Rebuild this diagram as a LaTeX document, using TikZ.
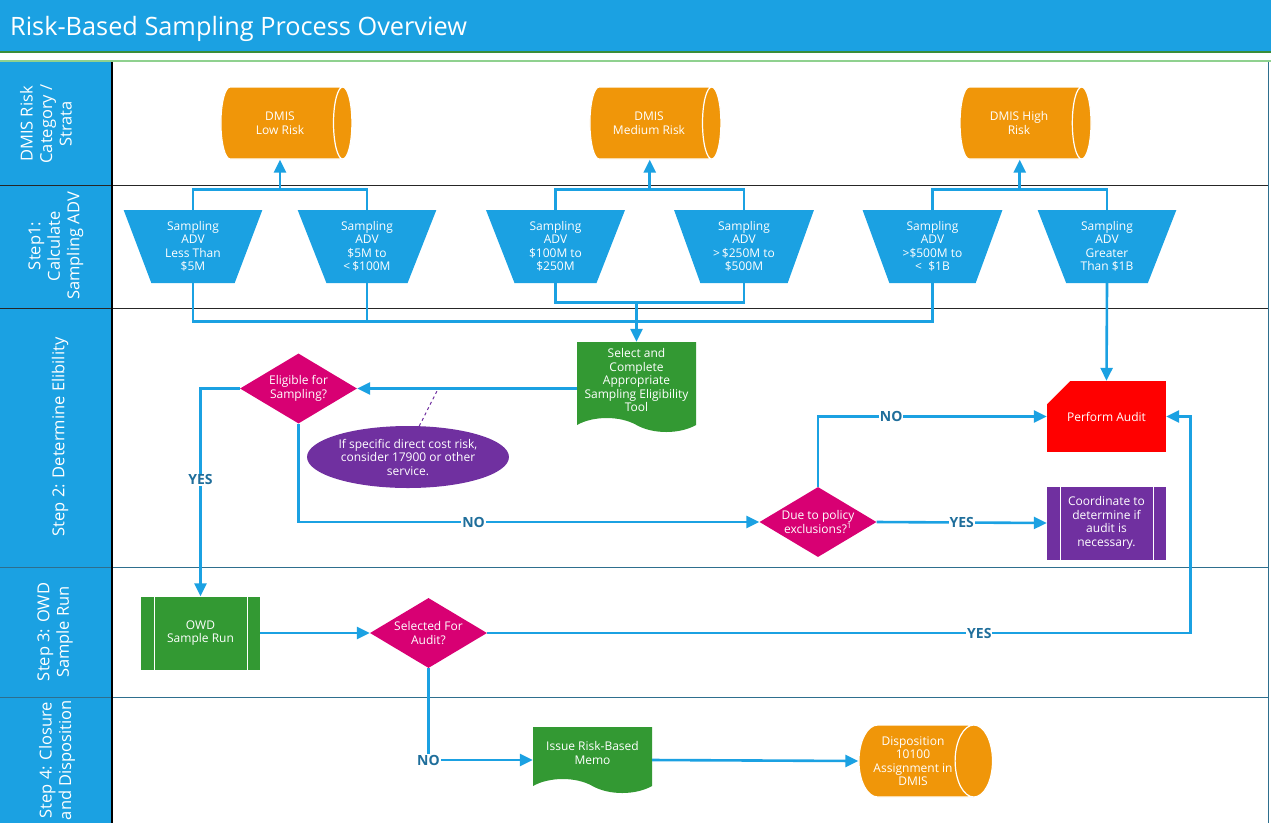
\documentclass[tikz,border=0pt]{standalone}
\usepackage{fontspec}
\setmainfont{Open Sans}
\usetikzlibrary{shapes.geometric,shapes.symbols,arrows.meta,calc}

\definecolor{laneblue}{HTML}{1BA1E2}
\definecolor{dmisorange}{HTML}{F09609}
\definecolor{docgreen}{HTML}{339933}
\definecolor{askpink}{HTML}{D80073}
\definecolor{notepurple}{HTML}{7030A0}
\definecolor{auditred}{HTML}{FF0000}
\definecolor{tagblue}{HTML}{1F6E9B}
\definecolor{rulegray}{HTML}{2E6F8E}
\definecolor{titlegreen}{HTML}{3A8E3A}
\definecolor{palegreen}{HTML}{8FD18F}

\tikzset{
  box/.style={text=white, align=center, font=\fontsize{12}{13.5}\selectfont, inner sep=2pt},
  strata/.style={box, cylinder, aspect=0.7, draw=white, line width=1.2pt,
    cylinder uses custom fill, cylinder body fill=dmisorange, cylinder end fill=dmisorange,
    minimum width=72pt, minimum height=131pt},
  band/.style={box, trapezium, shape border rotate=180, trapezium angle=70,
    trapezium stretches=true, fill=laneblue, minimum width=140pt, minimum height=73pt},
  ask/.style={box, diamond, fill=askpink, aspect=1.67, inner sep=0pt,
    minimum width=117pt, minimum height=70pt},
  doc/.style={box, tape, tape bend top=none, tape bend bottom=out and in,
    tape bend height=14pt, fill=docgreen, minimum width=119pt},
  sub/.style={box, rectangle, minimum width=119pt, minimum height=73pt,
    path picture={\draw[white, line width=1pt]
      ([xshift=13pt]path picture bounding box.north west) -- ([xshift=13pt]path picture bounding box.south west)
      ([xshift=-13pt]path picture bounding box.north east) -- ([xshift=-13pt]path picture bounding box.south east);}},
  audit/.style={box, rectangle, fill=auditred, minimum width=119pt, minimum height=71pt,
    path picture={\fill[white] (path picture bounding box.north west)
      -- ([xshift=23pt]path picture bounding box.north west)
      -- ([yshift=-23pt]path picture bounding box.north west) -- cycle;}},
  link/.style={laneblue, line width=2.6pt},
  flow/.style={link, -{Triangle[length=13pt,width=12pt]}},
  tag/.style={fill=white, text=tagblue, font=\fontsize{14}{14}\bfseries\selectfont, inner sep=1pt},
  lane/.style={text=white, rotate=90, align=center, font=\fontsize{16.5}{19.5}\selectfont}
}

\begin{document}
\begin{tikzpicture}[x=1pt,y=-1pt]
  \useasboundingbox (0,0) rectangle (1271,823);
  \fill[laneblue] (0,0) rectangle (1271,52);
  \node[anchor=base west, inner sep=0pt, text=white, font=\fontsize{25.3}{25.3}\selectfont] (title) at (10,35) {Risk-Based Sampling Process Overview};
  \draw[titlegreen, line width=1.2pt] (0,52) -- (1271,52);
  \draw[palegreen, line width=1.5pt] (0,61) -- (1271,61);
  \fill[laneblue] (0,62) rectangle (112,823);
  \foreach \y in {185,308}
    \draw[black!85, line width=1pt] (0,\y) -- (1268,\y);
  \foreach \y in {567,697}
    \draw[rulegray, line width=1pt] (0,\y) -- (1268,\y);
  \draw[black, line width=1.5pt] (112,62) -- (112,823);
  \draw[rulegray, line width=1pt] (1268,62) -- (1268,823);

  \node[lane] (lane1) at (46,124) {DMIS Risk\\Category /\\Strata};
  \node[lane] (lane2) at (56,246) {Step1:\\Calculate\\Sampling ADV};
  \node[lane] (lane3) at (60,437) {Step 2: Determine Elibility};
  \node[lane] (lane4) at (55,632) {Step 3: OWD\\Sample Run};
  \node[lane] (lane5) at (57,760) {Step 4: Closure\\and Disposition};

  \node[strata] (low) at (280,123) {DMIS\\Low Risk};
  \node[strata] (med) at (649,123) {DMIS\\Medium Risk};
  \node[strata] (high) at (1019,123) {DMIS High\\Risk};

  \foreach \n/\x/\t in {t1/193/{Sampling\\ADV\\Less Than\\\$5M},
                        t2/367/{Sampling\\ADV\\\$5M to\\<\,\$100M},
                        t3/555.5/{Sampling\\ADV\\\$100M to\\\$250M},
                        t4/744/{Sampling\\ADV\\>\,\$250M to\\\$500M},
                        t5/932.5/{Sampling\\ADV\\>\$500M to\\< \ \$1B},
                        t6/1107/{Sampling\\ADV\\Greater\\Than \$1B}}
    \node[band] (\n) at (\x,246.5) {\t};

  \node[doc, minimum height=90pt] (tool) at (636.5,380) {Select and\\Complete\\Appropriate\\Sampling Eligibility\\Tool};
  \node[ask] (elig) at (298.5,388.5) {Eligible for\\Sampling?};
  \node[box, ellipse, fill=notepurple, minimum width=182pt, minimum height=62pt] (hint) at (408,457)
    {If specific direct cost risk,\\consider 17900 or other\\service.};
  \coordinate (hintend) at (438,389);
  \node[audit] (audit) at (1106.5,416.5) {Perform Audit};
  \node[ask] (due) at (818,522) {Due to policy\\exclusions?\textsuperscript{1}};
  \node[sub, fill=notepurple] (coord) at (1106.5,523) {Coordinate to\\determine if\\audit is\\necessary.};

  \node[sub, fill=docgreen] (owd) at (200.5,633) {OWD\\Sample Run};
  \node[ask] (pick) at (428.5,633) {Selected For\\Audit?};

  \node[doc, minimum height=66pt] (memo) at (592.5,753) {Issue Risk-Based\\Memo};
  \node[strata] (disp) at (913,761) {Disposition\\10100\\Assignment in\\DMIS};

  \draw[link] (t1.north) -- ++(0,-20) coordinate (j1) -| (t2.north);
  \draw[link] (t3.north) -- ++(0,-20) coordinate (j2) -| (t4.north);
  \draw[link] (t5.north) -- ++(0,-20) coordinate (j3) -| (t6.north);
  \coordinate (m1) at ($(j1)!.5!(j1 -| t2.north)$);
  \coordinate (m2) at ($(j2)!.5!(j2 -| t4.north)$);
  \coordinate (m3) at ($(j3)!.5!(j3 -| t6.north)$);
  \draw[flow] (m1) -- (m1 |- low.south);
  \draw[flow] (m2) -- (m2 |- med.south);
  \draw[flow] (m3) -- (m3 |- high.south);

  \draw[link] (t1.south) -- ++(0,38) -| (t5.south);
  \draw[link] (t2.south) -- ++(0,38);
  \draw[link] (t3.south) -- ++(0,19) coordinate (b34) -| (t4.south);
  \draw[flow] (tool.north |- b34) -- (tool.north);
  \draw[flow] (t6.south) -- (audit.north);

  \draw[flow] (tool.west |- elig.east) -- (elig.east);
  \draw[notepurple, dashed, line width=1pt] (hint.70) -- (hintend);
  \draw[flow] (elig.west) -| node[tag, pos=0.72] {YES} (owd.north);
  \draw[flow] (elig.south) |- node[tag, pos=0.69] {NO} (due.west);
  \draw[flow] (due.north) |- node[tag, pos=0.66] {NO} (audit.west);
  \draw[flow] (due.east) -- node[tag] {YES} (coord.west);
  \draw[flow] (owd.east) -- (pick.west);
  \draw[flow] (pick.east) -| node[tag, pos=0.35] {YES} ([xshift=24pt]audit.east) -- (audit.east);
  \draw[flow] (pick.south) |- node[tag, pos=0.5] {NO} ([yshift=-7pt]memo.west);
  \draw[flow] ([yshift=-7pt]memo.east) -- (disp.west);
\end{tikzpicture}
\end{document}
